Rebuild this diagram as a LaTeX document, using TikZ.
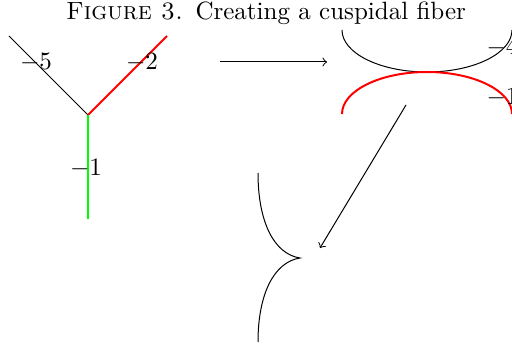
\documentclass[tikz,border=0pt]{standalone}
\begin{document}
\begin{tikzpicture}[x=0.4pt,y=-0.4pt,
  thinline/.style={black,line width=0.4pt},
  redline/.style={red,line width=0.8pt},
  greenline/.style={green,line width=0.8pt},
  lbl/.style={inner sep=0pt,font=\normalsize},
  maparrow/.style={->,line width=0.4pt}]
\useasboundingbox (0,0) rectangle (512,345);
\clip (0,0) rectangle (512,345);
\node[lbl] (title) at (266,13) {\textsc{Figure 3.}\enspace Creating a cuspidal fiber};
% left configuration
\coordinate (v) at (88,115);
\coordinate (a) at (9,36);
\coordinate (b) at (167,36);
\coordinate (c) at (88,219);
\draw[thinline] (a) -- (v);
\draw[redline] (v) -- (b);
\draw[greenline] (v) -- (c);
\node[lbl] (l5) at (36,62) {$-5$};
\node[lbl] (l2) at (142,62) {$-2$};
\node[lbl] (l1) at (86,168) {$-1$};
% arrow 1
\coordinate (s1) at (220,62);
\coordinate (e1) at (327,62);
\draw[maparrow] (s1) -- (e1);
% tangent curves
\coordinate (t) at (427,72);
\draw[thinline] (342,30) arc[start angle=180,end angle=0,x radius=85,y radius=42];
\draw[redline] (342,114) arc[start angle=180,end angle=360,x radius=85,y radius=42];
\node[lbl,anchor=west] (l4b) at (486,47) {$-4$};
\node[lbl,anchor=west] (l1b) at (486,97) {$-1$};
% arrow 2
\coordinate (s2) at (406,105);
\coordinate (e2) at (320,248);
\draw[maparrow] (s2) -- (e2);
% cusp
\coordinate (ct) at (258,173);
\coordinate (cp) at (300,258);
\coordinate (cb) at (258,342);
\draw[thinline] (ct) .. controls (258,222) and (274,254) .. (cp)
  .. controls (274,262) and (258,294) .. (cb);
\end{tikzpicture}
\end{document}
